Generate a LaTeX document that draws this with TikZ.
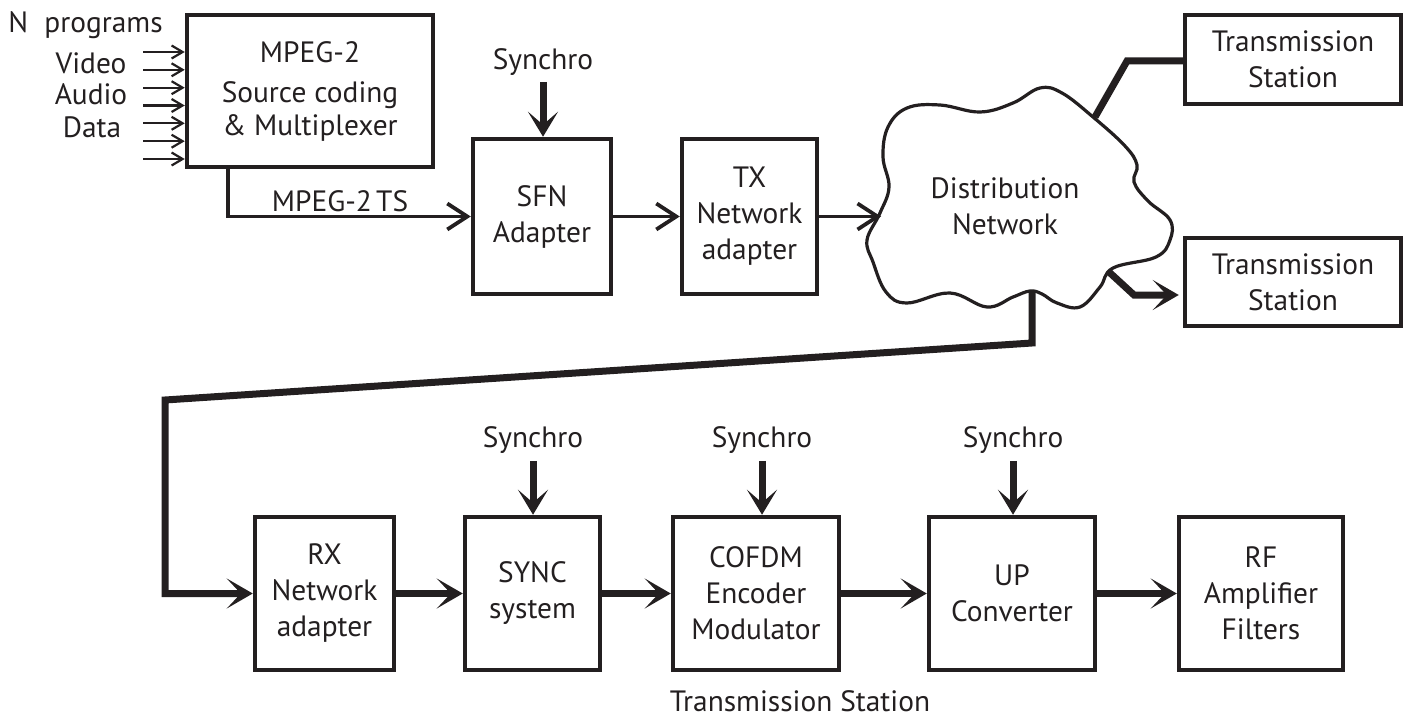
\documentclass[tikz,border=0pt]{standalone}
\usepackage{fontspec}
\setmainfont{PT Sans}
\usetikzlibrary{arrows.meta}
\definecolor{ink}{HTML}{231F20}
\begin{document}
\begin{tikzpicture}[x=0.5pt,y=-0.5pt,
  every node/.style={text=ink, font=\fontsize{14.7}{18}\selectfont},
  blk/.style={draw=ink, line width=2.25pt, inner sep=0pt, align=center, minimum width=#1},
  blk/.default=69pt,
  lbl/.style={inner sep=0pt, align=center},
  thinarrow/.style={draw=ink, line width=1.9pt, -{Straight Barb[length=10pt,width=13pt]}},
  inarrow/.style={draw=ink, line width=1.1pt, -{Straight Barb[length=5.5pt,width=6.5pt]}},
  thickarrow/.style={draw=ink, line width=3.5pt, -{Stealth[length=13pt,width=15pt,inset=7pt]}},
  thickline/.style={draw=ink, line width=3.5pt},
  syncarrow/.style={draw=ink, line width=3.5pt, -{Stealth[length=12.5pt,width=15pt,inset=6.5pt]}}]
\useasboundingbox (0,0) rectangle (1407,717);

% ---------- top row ----------
\node[blk=123pt, minimum height=76pt] (mpeg) at (310,91)
  {MPEG-2\\[2pt]Source coding\\[-1.5pt]\& Multiplexer};
\node[blk=69pt, minimum height=77.5pt] (sfn) at (542,216.5) {SFN\\Adapter};
\node[blk=67.5pt, minimum height=77.5pt] (tx) at (749.5,216.5) {TX\\Network\\adapter};
\node[blk=108pt, minimum height=44.5pt] (ts1) at (1293,59.5) {Transmission\\Station};
\node[blk=108pt, minimum height=44pt] (ts2) at (1293,282) {Transmission\\Station};

% input labels and arrows
\node[lbl, anchor=west] (np) at (8,25) {N\hspace{0.55em}programs};
\node[lbl] (video) at (91,63) {Video};
\node[lbl] (audio) at (91,94) {Audio};
\node[lbl] (data) at (92,127) {Data};
\foreach \i/\yy in {1/52,2/69.8,3/87.7,4/105.5,5/123.3,6/141.2,7/159}{
  \coordinate (in\i) at (143,\yy);
  \draw[inarrow] (in\i) -- (in\i -| mpeg.west);
}

% MPEG-2 TS
\coordinate (tsx) at (228,0);
\draw[thinarrow] (mpeg.south -| tsx) |- (sfn.west);
\node[lbl] (tslbl) at (340,201) {MPEG-2\hspace{0.15em}TS};

% synchro top
\node[lbl] (sy0) at (543,62) {Synchro};
\draw[syncarrow] ([yshift=-3pt]sy0.south) -- (sy0.south |- sfn.north);

\draw[thinarrow] (sfn.east) -- (tx.west);

% cloud
\draw[ink, line width=1.6pt, fill=white] plot[smooth cycle, tension=0.65] coordinates {
 (867,240) (880,213) (889,187) (883,157) (888,127) (907,108) (940,105) (980,112)
 (1013,103) (1040,88) (1062,93) (1093,117) (1125,146) (1137,165) (1134,182)
 (1148,201) (1170,220) (1170,240) (1156,257) (1113,268) (1100,287) (1080,307)
 (1057,303) (1042,294) (1030,291) (1013,297) (987,307) (950,293) (907,303)
 (886,292) (873,262)};
\node[lbl] (cloud) at (1005,206) {Distribution\\Network};
\coordinate (cloudW) at (881,216.5);
\coordinate (cloudNE) at (1095,117);
\coordinate (cloudSE) at (1109,272);
\coordinate (cloudS) at (1032,291);
\draw[thinarrow] (tx.east) -- (cloudW);

% to stations
\coordinate (bend1) at (1127,61);
\draw[thickline] (cloudNE) -- (bend1) -- (bend1 -| ts1.west);
\coordinate (bend2) at (1134,295);
\draw[thickarrow] (cloudSE) -- (bend2) -- ([xshift=-2pt]bend2 -| ts2.west);

% ---------- bottom row ----------
\node[blk=69.5pt, minimum height=76.5pt] (rx) at (324.5,593.5) {RX\\Network\\adapter};
\node[blk=67.5pt, minimum height=76.5pt] (sync) at (532.5,593.5) {SYNC\\system};
\node[blk=83pt, minimum height=76.5pt] (cofdm) at (756,593.5) {COFDM\\Encoder\\Modulator};
\node[blk=83pt, minimum height=76.5pt] (up) at (1012,593.5) {UP\\Converter};
\node[blk=82pt, minimum height=76.5pt] (rf) at (1261,593.5) {RF\\Amplifier\\Filters};

% long connector
\coordinate (c1) at (1032,343);
\coordinate (c2) at (165,400);
\draw[thickarrow] (cloudS) -- (c1) -- (c2) |- (rx.west);

\draw[thickarrow] (rx.east) -- (sync.west);
\draw[thickarrow] (sync.east) -- (cofdm.west);
\draw[thickarrow] (cofdm.east) -- (up.west);
\draw[thickarrow] (up.east) -- (rf.west);

% synchro bottom
\node[lbl] (sy1) at (533,440) {Synchro};
\node[lbl] (sy2) at (762,440) {Synchro};
\node[lbl] (sy3) at (1013,440) {Synchro};
\draw[syncarrow] ([yshift=-3.5pt]sy1.south) -- (sy1.south |- sync.north);
\draw[syncarrow] ([yshift=-3.5pt]sy2.south) -- (sy2.south |- cofdm.north);
\draw[syncarrow] ([yshift=-3.5pt]sy3.south) -- (sy3.south |- up.north);

\node[lbl, anchor=base] (tslabel) at (800,711) {Transmission Station};
\end{tikzpicture}
\end{document}
